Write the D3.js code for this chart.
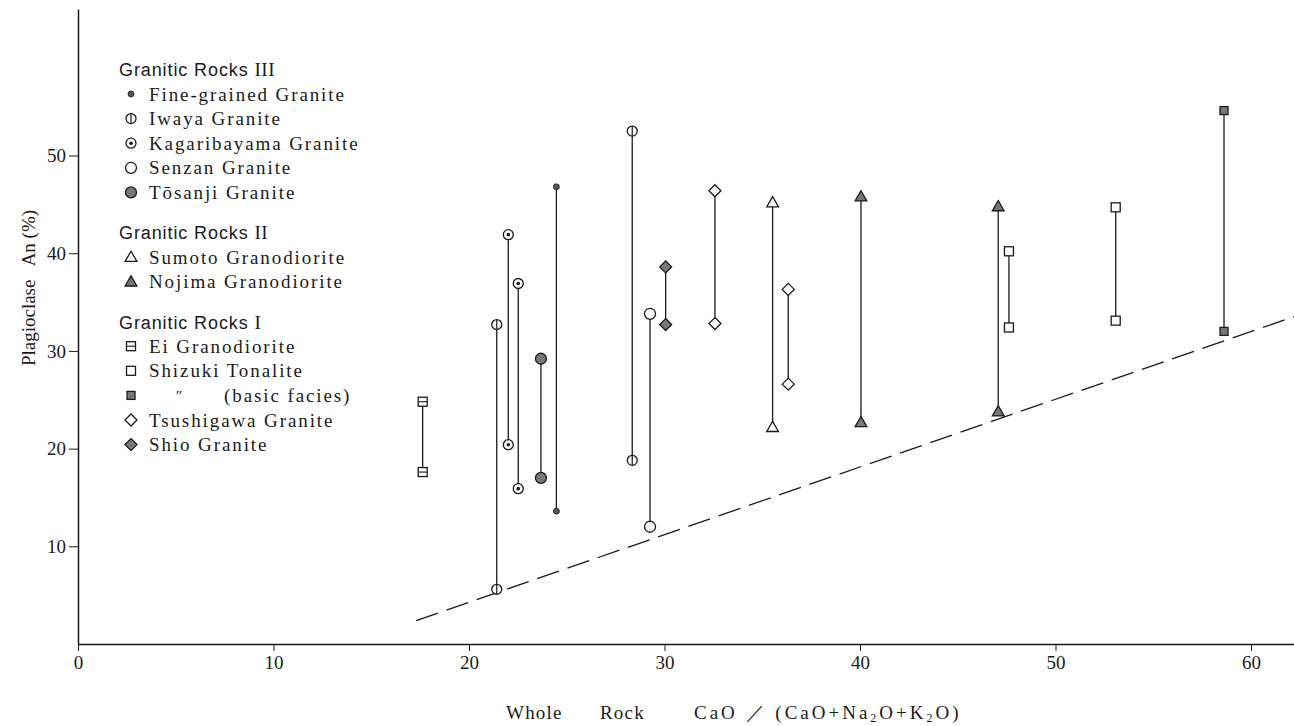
<!DOCTYPE html>
<html>
<head>
  <meta charset="UTF-8" />
  <title>Plagioclase An vs Whole Rock CaO ratio</title>
  <script src="https://cdn.jsdelivr.net/npm/d3@7"></script>
  <style>
    body {
      margin: 0;
      padding: 0;
      background-color: white;
    }
    #chart svg {
      display: block;
    }
  </style>
</head>
<body>
  <div id="chart"></div>

  <script>
    // Each sample: [whole rock CaO ratio, lowest An, highest An]
    const fineGrained = [[24.47, 13.6, 46.8]]
    const iwaya = [[21.42, 5.6, 32.7], [28.35, 18.8, 52.5]]
    const kagaribayama = [[22.01, 20.4, 41.9], [22.52, 15.9, 36.9]]
    const senzan = [[29.26, 12.0, 33.8]]
    const tosanji = [[23.68, 17.0, 29.2]]
    const sumoto = [[35.53, 22.2, 45.2]]
    const nojima = [[40.05, 22.7, 45.8], [47.07, 23.8, 44.8]]
    const ei = [[17.63, 17.6, 24.8]]
    const shizuki = [[47.62, 32.4, 40.2], [53.08, 33.1, 44.7]]
    const shizukiBasic = [[58.62, 32.0, 54.6]]
    const tsushigawa = [[32.58, 32.8, 46.4], [36.33, 26.6, 36.3]]
    const shio = [[30.06, 32.7, 38.6]]

    // dashed lower boundary line (start and end points)
    const boundaryLine = [[17.3, 2.4], [62.2, 33.5]]

    const xTicks = [0, 10, 20, 30, 40, 50, 60]
    const yTicks = [10, 20, 30, 40, 50]

    // legend groups: header, then entries [marker type, label]
    const legendGroups = [
      { title: 'Granitic Rocks ', numeral: 'III', items: [
        ['fine', 'Fine-grained Granite'],
        ['iwaya', 'Iwaya Granite'],
        ['kagari', 'Kagaribayama Granite'],
        ['senzan', 'Senzan Granite'],
        ['tosanji', 'Tōsanji Granite'],
      ] },
      { title: 'Granitic Rocks ', numeral: 'II', items: [
        ['triOpen', 'Sumoto Granodiorite'],
        ['triFilled', 'Nojima Granodiorite'],
      ] },
      { title: 'Granitic Rocks ', numeral: 'I', items: [
        ['sqEi', 'Ei Granodiorite'],
        ['sqOpen', 'Shizuki Tonalite'],
        ['sqFilled', null],
        ['diaOpen', 'Tsushigawa Granite'],
        ['diaFilled', 'Shio Granite'],
      ] },
    ]

    // which marker goes with which series
    const seriesList = [
      { type: 'fine', data: fineGrained },
      { type: 'iwaya', data: iwaya },
      { type: 'kagari', data: kagaribayama },
      { type: 'senzan', data: senzan },
      { type: 'tosanji', data: tosanji },
      { type: 'triOpen', data: sumoto },
      { type: 'triFilled', data: nojima },
      { type: 'sqEi', data: ei },
      { type: 'sqOpen', data: shizuki },
      { type: 'sqFilled', data: shizukiBasic },
      { type: 'diaOpen', data: tsushigawa },
      { type: 'diaFilled', data: shio },
    ]

    const width = 1294
    const height = 726
    const ink = '#1a1a1a'
    const gray = '#777'
    const serif = "'Liberation Serif', 'DejaVu Serif', serif"
    const sans = "'Liberation Sans', Arial, sans-serif"

    const svg = d3
      .select('#chart')
      .append('svg')
      .attr('width', width)
      .attr('height', height)

    const x = d3.scaleLinear().domain([0, 62.2]).range([78, 1294])
    const y = d3.scaleLinear().domain([0, 65]).range([644, 9])

    // x axis
    const xAxis = svg
      .append('g')
      .attr('transform', `translate(0,${y(0)})`)
      .call(d3.axisBottom(x).tickValues(xTicks).tickSize(7).tickPadding(5).tickSizeOuter(0))
    xAxis.select('.domain').attr('stroke', ink).attr('stroke-width', 1.5)
    xAxis.selectAll('.tick line').attr('stroke', ink).attr('stroke-width', 1)
    xAxis.selectAll('.tick text')
      .attr('fill', ink)
      .style('font-family', serif)
      .style('font-size', '19px')

    // y axis
    const yAxis = svg
      .append('g')
      .attr('transform', `translate(${x(0)},0)`)
      .call(d3.axisLeft(y).tickValues(yTicks).tickSize(9).tickPadding(3).tickSizeOuter(0))
    yAxis.select('.domain').attr('stroke', ink).attr('stroke-width', 1.5)
    yAxis.selectAll('.tick line').attr('stroke', ink).attr('stroke-width', 1)
    yAxis.selectAll('.tick text')
      .attr('fill', ink)
      .style('font-family', serif)
      .style('font-size', '19px')

    // axis titles
    svg
      .append('text')
      .attr('transform', `translate(28,288) rotate(-90)`)
      .attr('text-anchor', 'middle')
      .attr('dy', '0.35em')
      .attr('fill', ink)
      .style('font-family', serif)
      .style('font-size', '19px')
      .style('white-space', 'pre')
      .text('Plagioclase   An (%)')

    const titleStyle = (t) =>
      t.attr('y', 712)
        .attr('dy', '0.35em')
        .attr('fill', ink)
        .style('font-family', serif)
        .style('font-size', '19px')
        .style('letter-spacing', '1.2px')
    titleStyle(svg.append('text').attr('x', 506)).text('Whole')
    titleStyle(svg.append('text').attr('x', 600)).text('Rock')
    const xTitle = titleStyle(svg.append('text').attr('x', 694))
      .style('white-space', 'pre')
      .style('letter-spacing', '3px')
    xTitle.append('tspan').text('CaO ／ (CaO+Na')
    xTitle.append('tspan').attr('dy', 3).style('font-size', '12px').text('2')
    xTitle.append('tspan').attr('dy', -3).text('O+K')
    xTitle.append('tspan').attr('dy', 3).style('font-size', '12px').text('2')
    xTitle.append('tspan').attr('dy', -3).text('O)')

    // dashed boundary
    svg
      .append('path')
      .datum(boundaryLine)
      .attr('d', d3.line().x((d) => x(d[0])).y((d) => y(d[1])))
      .attr('fill', 'none')
      .attr('stroke', ink)
      .attr('stroke-width', 1.3)
      .attr('stroke-dasharray', '23,9')

    // draws one marker of the given type centred at (cx, cy)
    function drawMarker(g, type, cx, cy) {
      const m = g.append('g').attr('transform', `translate(${cx},${cy})`)
      if (type === 'fine') {
        m.append('circle').attr('r', 3).attr('fill', '#555').attr('stroke', ink).attr('stroke-width', 0.8)
      } else if (type === 'iwaya' || type === 'kagari' || type === 'senzan' || type === 'tosanji') {
        const r = type === 'iwaya' || type === 'kagari' ? 5 : 5.5
        m.append('circle')
          .attr('r', r)
          .attr('fill', type === 'tosanji' ? gray : 'white')
          .attr('stroke', ink)
          .attr('stroke-width', 1.3)
        if (type === 'iwaya') {
          m.append('line').attr('y1', -r).attr('y2', r).attr('stroke', ink).attr('stroke-width', 1.2)
        }
        if (type === 'kagari') {
          m.append('circle').attr('r', 1.8).attr('fill', ink)
        }
      } else if (type === 'triOpen' || type === 'triFilled') {
        m.append('path')
          .attr('d', d3.symbol(d3.symbolTriangle, 60)())
          .attr('transform', 'translate(0,1)')
          .attr('fill', type === 'triFilled' ? gray : 'white')
          .attr('stroke', ink)
          .attr('stroke-width', 1.3)
      } else if (type === 'sqEi' || type === 'sqOpen' || type === 'sqFilled') {
        const s = type === 'sqFilled' ? 8 : 9
        m.append('rect')
          .attr('x', -s / 2)
          .attr('y', -s / 2)
          .attr('width', s)
          .attr('height', s)
          .attr('fill', type === 'sqFilled' ? gray : 'white')
          .attr('stroke', ink)
          .attr('stroke-width', 1.3)
        if (type === 'sqEi') {
          m.append('line').attr('x1', -s / 2).attr('x2', s / 2).attr('stroke', ink).attr('stroke-width', 1.1)
        }
      } else if (type === 'diaOpen' || type === 'diaFilled') {
        const d = 6
        m.append('path')
          .attr('d', `M0,${-d}L${d},0L0,${d}L${-d},0Z`)
          .attr('fill', type === 'diaFilled' ? gray : 'white')
          .attr('stroke', ink)
          .attr('stroke-width', 1.3)
      }
    }

    // vertical range lines, then markers at both ends
    const plot = svg.append('g')
    seriesList.forEach((s) => {
      s.data.forEach((d) => {
        plot
          .append('line')
          .attr('x1', x(d[0]))
          .attr('x2', x(d[0]))
          .attr('y1', y(d[1]))
          .attr('y2', y(d[2]))
          .attr('stroke', ink)
          .attr('stroke-width', 1.3)
      })
    })
    seriesList.forEach((s) => {
      s.data.forEach((d) => {
        drawMarker(plot, s.type, x(d[0]), y(d[1]))
        drawMarker(plot, s.type, x(d[0]), y(d[2]))
      })
    })

    // legend
    const legend = svg.append('g')
    const itemText = (t) =>
      t.attr('dy', '0.35em')
        .attr('fill', ink)
        .style('font-family', serif)
        .style('font-size', '19px')
        .style('letter-spacing', '1.9px')
    let ly = 70
    legendGroups.forEach((grp) => {
      const head = legend
        .append('text')
        .attr('x', 119)
        .attr('y', ly)
        .attr('dy', '0.35em')
        .attr('fill', ink)
        .style('font-size', '18px')
      head.append('tspan')
        .style('font-family', sans)
        .style('font-weight', 500)
        .style('letter-spacing', '0.9px')
        .text(grp.title)
      head.append('tspan')
        .style('font-family', serif)
        .style('font-size', '19px')
        .style('letter-spacing', '0.5px')
        .text(grp.numeral)
      ly += 24
      grp.items.forEach(([type, label]) => {
        drawMarker(legend, type, 131, ly)
        if (label) {
          itemText(legend.append('text').attr('x', 149).attr('y', ly)).text(label)
        } else {
          // ditto mark and facies note
          legend
            .append('text')
            .attr('x', 175)
            .attr('y', ly)
            .attr('dy', '0.35em')
            .attr('fill', ink)
            .style('font-family', serif)
            .style('font-size', '15px')
            .style('font-style', 'italic')
            .text('″')
          itemText(legend.append('text').attr('x', 224).attr('y', ly)).text('(basic facies)')
        }
        ly += 24.6
      })
      ly += 16
    })
  </script>
</body>
</html>
